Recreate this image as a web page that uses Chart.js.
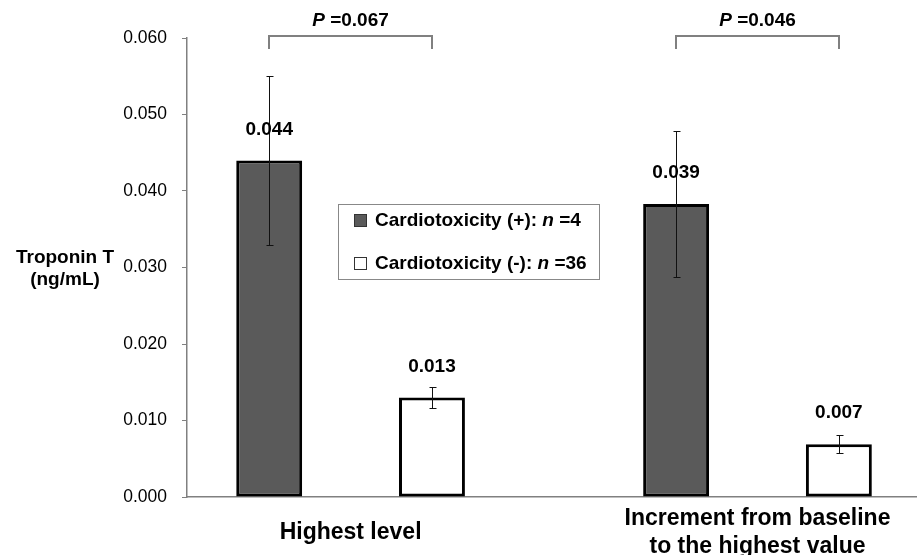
<!DOCTYPE html>
<html>
<head>
<meta charset="utf-8">
<script src="https://cdn.jsdelivr.net/npm/chart.js@4.4.1/dist/chart.umd.min.js"></script>
<style>
  html, body { margin: 0; padding: 0; background: #fff; }
  #wrap { width: 917px; height: 555px; }
</style>
</head>
<body>
<div id="wrap"><canvas id="troponin" width="917" height="555"></canvas></div>
<script>
var categories = ["Highest level", ["Increment from baseline", "to the highest value"]];
var seriesNames = ["Cardiotoxicity (+)", "Cardiotoxicity (-)"];
var seriesN = ["4", "36"];
var positiveValues = [0.044, 0.0383];
var positiveErrors = [0.011, 0.0095];
var positiveLabels = ["0.044", "0.039"];
var negativeValues = [0.013, 0.0069];
var negativeErrors = [0.0014, 0.0012];
var negativeLabels = ["0.013", "0.007"];
var pValues = ["0.067", "0.046"];
var yTicks = [0, 0.01, 0.02, 0.03, 0.04, 0.05, 0.06];

var FONT = "'Liberation Sans', Arial, sans-serif";

function points(values) {
    return values.map(function (v, i) { return { x: i + 1, y: v }; });
}

// draws a row of text pieces with different fonts, left or centered
function drawRuns(c, runs, x, y, align) {
    var total = 0;
    runs.forEach(function (r) { c.font = r.f; total += c.measureText(r.t).width; });
    var cx = align === "center" ? x - total / 2 : x;
    c.textAlign = "left";
    c.textBaseline = "middle";
    runs.forEach(function (r) {
        c.font = r.f;
        c.fillText(r.t, cx, y);
        cx += c.measureText(r.t).width;
    });
}

var annotations = {
    id: "annotations",
    afterDatasetsDraw: function (chart) {
        var c = chart.ctx;
        var ys = chart.scales.y;
        var area = chart.chartArea;
        var errs = [positiveErrors, negativeErrors];
        var labs = [positiveLabels, negativeLabels];
        var bold = "bold 19px " + FONT;
        var boldIt = "italic bold 19px " + FONT;
        c.save();

        // error bars and value labels
        chart.data.datasets.forEach(function (ds, d) {
            chart.getDatasetMeta(d).data.forEach(function (bar, i) {
                var v = ds.data[i].y, e = errs[d][i];
                var top = Math.round(ys.getPixelForValue(v + e)) + 0.5;
                var bot = Math.round(ys.getPixelForValue(v - e)) + 0.5;
                var bx = Math.round(bar.x) + 0.5;
                c.strokeStyle = "#111";
                c.lineWidth = 1;
                c.beginPath();
                c.moveTo(bx, top); c.lineTo(bx, bot);
                c.moveTo(bx - 3, top); c.lineTo(bx + 4, top);
                c.moveTo(bx - 3, bot); c.lineTo(bx + 4, bot);
                c.stroke();
                c.fillStyle = "#000";
                c.font = bold;
                c.textAlign = "center";
                c.textBaseline = "middle";
                c.fillText(labs[d][i], bar.x, bar.y - 31);
            });
        });

        // P value brackets
        var m0 = chart.getDatasetMeta(0).data, m1 = chart.getDatasetMeta(1).data;
        pValues.forEach(function (p, i) {
            var l = Math.round(m0[i].x), r = Math.round(m1[i].x);
            var yb = Math.round(area.top) - 2;
            c.strokeStyle = "#808080";
            c.lineWidth = 2;
            c.beginPath();
            c.moveTo(l, yb + 13); c.lineTo(l, yb); c.lineTo(r, yb); c.lineTo(r, yb + 13);
            c.stroke();
            c.fillStyle = "#000";
            drawRuns(c, [{ t: "P", f: boldIt }, { t: " =" + p, f: bold }], (l + r) / 2, area.top - 17, "center");
        });

        // legend box
        c.fillStyle = "#fff";
        c.fillRect(338.5, 204.5, 261, 75);
        c.strokeStyle = "#888";
        c.lineWidth = 1;
        c.strokeRect(338.5, 204.5, 261, 75);
        var rows = [221, 264];
        chart.data.datasets.forEach(function (ds, d) {
            c.fillStyle = ds.backgroundColor;
            c.fillRect(354.5, rows[d] - 6.5, 12, 12);
            c.strokeStyle = "#333";
            c.strokeRect(354.5, rows[d] - 6.5, 12, 12);
            c.fillStyle = "#000";
            drawRuns(c, [
                { t: seriesNames[d] + ": ", f: bold },
                { t: "n", f: boldIt },
                { t: " =" + seriesN[d], f: bold }
            ], 375, rows[d], "left");
        });

        // y axis title, horizontal
        c.font = bold;
        c.fillStyle = "#000";
        c.textAlign = "center";
        c.textBaseline = "middle";
        c.fillText("Troponin T", 65, 258);
        c.fillText("(ng/mL)", 65, 280);
        c.restore();
    }
};

document.addEventListener("DOMContentLoaded", function () {
    var ctx = document.getElementById("troponin").getContext("2d");

    var data = {
        datasets: [
            {
                label: seriesNames[0],
                data: points(positiveValues),
                backgroundColor: "#5a5a5a",
                borderColor: "#000",
                borderWidth: 3,
                borderSkipped: false,
                categoryPercentage: 0.8,
                barPercentage: 0.405
            },
            {
                label: seriesNames[1],
                data: points(negativeValues),
                backgroundColor: "#ffffff",
                borderColor: "#000",
                borderWidth: 3,
                borderSkipped: false,
                categoryPercentage: 0.8,
                barPercentage: 0.405
            }
        ]
    };

    var options = {
        responsive: false,
        animation: false,
        events: [],
        layout: { padding: { top: 38, right: 0, left: 0, bottom: 0 } },
        scales: {
            x: {
                type: "linear",
                offset: false,
                min: 0.598,
                max: 2.392,
                afterBuildTicks: function (s) {
                    s.ticks = categories.map(function (c, i) { return { value: i + 1 }; });
                },
                afterFit: function (s) { s.height = 58; },
                ticks: {
                    autoSkip: false,
                    maxRotation: 0,
                    crossAlign: "center",
                    padding: 22,
                    color: "#000",
                    font: { family: FONT, size: 23, weight: "bold" },
                    callback: function (v, i) { return categories[i]; }
                },
                grid: { display: false, drawTicks: false },
                border: { color: "#808080", width: 1.5 }
            },
            y: {
                min: 0,
                max: 0.06,
                afterBuildTicks: function (s) {
                    s.ticks = yTicks.map(function (v) { return { value: v }; });
                },
                afterFit: function (s) { s.width = 187; },
                ticks: {
                    padding: 15,
                    color: "#000",
                    font: { family: FONT, size: 17.5 },
                    callback: function (v) { return v.toFixed(3); }
                },
                grid: { drawOnChartArea: false, drawTicks: true, tickLength: 5, color: "#808080" },
                border: { color: "#808080", width: 1.5 }
            }
        },
        plugins: {
            legend: { display: false },
            tooltip: { enabled: false }
        }
    };

    new Chart(ctx, {
        type: "bar",
        data: data,
        options: options,
        plugins: [annotations]
    });
});
</script>
</body>
</html>
